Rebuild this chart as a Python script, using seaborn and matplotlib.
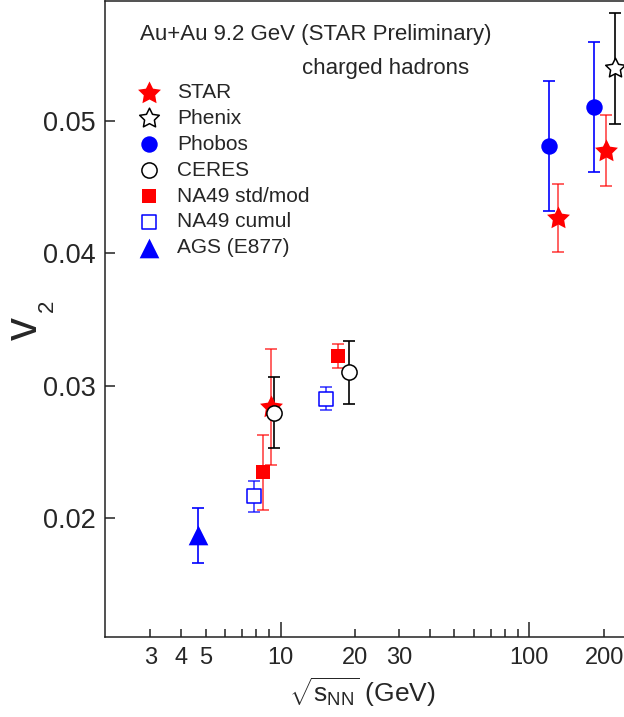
import numpy as np
import pandas as pd
import matplotlib
matplotlib.use('Agg')
import matplotlib.pyplot as plt
import matplotlib.ticker as mticker
import seaborn as sns

# v2 of charged hadrons vs collision energy
star_x = [9.13, 130.4, 202.8]
star_y = [0.0284, 0.04264, 0.04774]
star_err = [0.0044, 0.00255, 0.0027]

phenix_x = [221.0]
phenix_y = [0.05395]
phenix_err = [0.0042]

phobos_x = [120.3, 182.5]
phobos_y = [0.04809, 0.05106]
phobos_err = [0.0049, 0.0049]

ceres_x = [9.42, 18.85]
ceres_y = [0.02797, 0.03101]
ceres_err = [0.00268, 0.00238]

na49std_x = [8.53, 17.07]
na49std_y = [0.02347, 0.03228]
na49std_err = [0.00285, 0.0009]

na49cum_x = [7.8, 15.3]
na49cum_y = [0.02167, 0.02903]
na49cum_err = [0.00116, 0.00088]

ags_x = [4.66]
ags_y = [0.01872]
ags_err = [0.0021]

sns.set_theme(style='ticks')
plt.rcParams['font.family'] = ['Liberation Sans', 'DejaVu Sans']
plt.rcParams['mathtext.fontset'] = 'custom'
plt.rcParams['mathtext.rm'] = 'Liberation Sans'
plt.rcParams['mathtext.it'] = 'Liberation Sans'
plt.rcParams['mathtext.default'] = 'regular'

W, H = 624, 717
fig = plt.figure(figsize=(W / 100, H / 100), dpi=100)
ax = fig.add_axes([105.3 / W, 1 - 637 / H, (628 - 105.3) / W, 636 / H])

star = (5, 1, 0)  # fatter five-point star, like the ROOT marker

# (label, x, y, err, marker, color, filled, size, errcolor)
series = [
    ('STAR', star_x, star_y, star_err, star, 'red', True, 300, (1, 0, 0, 0.72)),
    ('Phenix', phenix_x, phenix_y, phenix_err, star, 'black', False, 220, 'black'),
    ('Phobos', phobos_x, phobos_y, phobos_err, 'o', 'blue', True, 140, 'blue'),
    ('CERES', ceres_x, ceres_y, ceres_err, 'o', 'black', False, 120, 'black'),
    ('NA49 std/mod', na49std_x, na49std_y, na49std_err, 's', 'red', True, 100, (1, 0, 0, 0.72)),
    ('NA49 cumul', na49cum_x, na49cum_y, na49cum_err, 's', 'blue', False, 105, (0, 0, 1, 0.75)),
    ('AGS (E877)', ags_x, ags_y, ags_err, '^', 'blue', True, 200, 'blue'),
]

for label, xs, ys, errs, mk, col, filled, sz, ecol in series:
    ax.errorbar(xs, ys, yerr=errs, fmt='none', ecolor=ecol, elinewidth=1.2,
                capsize=4, capthick=1.2, zorder=2)

for label, xs, ys, errs, mk, col, filled, sz, ecol in series:
    df = pd.DataFrame({'x': xs, 'y': ys})
    if filled:
        sns.scatterplot(data=df, x='x', y='y', ax=ax, marker=mk, s=sz,
                        color=col, linewidth=0, label=label, zorder=3)
    else:
        sns.scatterplot(data=df, x='x', y='y', ax=ax, marker=mk, s=sz,
                        facecolors='white', edgecolor=col, linewidth=1.1,
                        label=label, zorder=3)

ax.set_xscale('log')
ax.set_xlim(1.976, 249.3)
ax.set_ylim(0.01106, 0.05903)

ax.xaxis.set_major_locator(mticker.FixedLocator([10, 100]))
ax.xaxis.set_major_formatter(mticker.FixedFormatter(['10', '100']))
minor = [3, 4, 5, 6, 7, 8, 9, 20, 30, 40, 50, 60, 70, 80, 90, 200]
shown = {3, 4, 5, 20, 30, 200}
ax.xaxis.set_minor_locator(mticker.FixedLocator(minor))
ax.xaxis.set_minor_formatter(mticker.FixedFormatter(
    [str(v) if v in shown else '' for v in minor]))
ax.set_yticks([0.02, 0.03, 0.04, 0.05])
ax.set_yticklabels(['0.02', '0.03', '0.04', '0.05'])

ax.tick_params(axis='x', which='major', direction='in', length=11, width=1.1,
               labelsize=17, pad=7, color='#222222')
ax.tick_params(axis='x', which='minor', direction='in', length=6, width=1.1,
               labelsize=17, pad=7, color='#222222')
ax.tick_params(axis='y', which='major', direction='in', length=7.5, width=1.1,
               labelsize=19.5, pad=7, color='#222222')
ax.tick_params(axis='y', which='minor', left=False)

for side in ['left', 'bottom', 'top', 'right']:
    ax.spines[side].set_linewidth(1.1)
    ax.spines[side].set_color('#222222')

ax.set_xlabel(r'$\sqrt{s_{NN}}$ (GeV)', fontsize=19)
ax.xaxis.set_label_coords((362 - 105.3) / (628 - 105.3), -0.06)
ax.set_ylabel('')

fig.text(24.7 / W, 1 - 328 / H, 'v', fontsize=33, rotation=90,
         ha='center', va='center')
fig.text(47 / W, 1 - 306 / H, '2', fontsize=16, rotation=90,
         ha='center', va='center')

fig.text(140 / W, 1 - 40 / H, 'Au+Au 9.2 GeV (STAR Preliminary)',
         fontsize=16, ha='left', va='baseline')
fig.text(302 / W, 1 - 74 / H, 'charged hadrons',
         fontsize=16, ha='left', va='baseline')

ax.legend(loc='upper left', bbox_to_anchor=(138.6 / W, 1 - 83 / H),
          bbox_transform=fig.transFigure, frameon=False, fontsize=15,
          handlelength=1.0, handletextpad=0.85, labelspacing=0.33,
          borderpad=0, borderaxespad=0, scatterpoints=1)

fig.savefig('out.png', dpi=100)
